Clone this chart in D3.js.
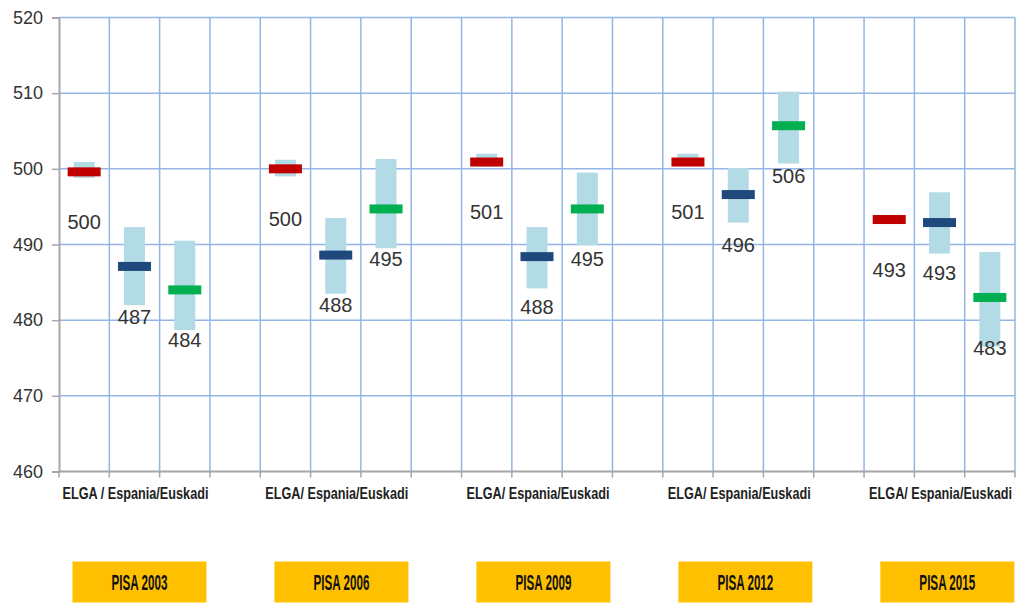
<!DOCTYPE html>
<html>
<head>
<meta charset="utf-8">
<script src="https://cdn.jsdelivr.net/npm/d3@7"></script>
<style>
  html, body { margin: 0; padding: 0; background: #fff; }
  svg { display: block; }
</style>
</head>
<body>
<svg id="chart" width="1017" height="604"></svg>
<script>
// ---- data ----
const groups = ["PISA 2003", "PISA 2006", "PISA 2009", "PISA 2012", "PISA 2015"];
const groupAxisLabels = ["ELGA / Espania/Euskadi", "ELGA/ Espania/Euskadi", "ELGA/ Espania/Euskadi", "ELGA/ Espania/Euskadi", "ELGA/ Espania/Euskadi"];
const entities = ["ELGA", "Espania", "Euskadi"];
const yTicks = [460, 470, 480, 490, 500, 510, 520];

const elgaValue    = [499.6, 500.0, 500.9, 500.9, 493.3];
const elgaLow      = [498.8, 499.0, 500.3, 500.4, 492.8];
const elgaHigh     = [500.9, 501.2, 502.0, 502.0, 493.9];
const elgaLabel    = ["500", "500", "501", "501", "493"];

const espaniaValue = [487.1, 488.6, 488.4, 496.6, 492.9];
const espaniaLow   = [482.0, 483.5, 484.2, 492.9, 488.8];
const espaniaHigh  = [492.3, 493.5, 492.3, 500.1, 496.9];
const espaniaLabel = ["487", "488", "488", "496", "493"];

const euskadiValue = [484.0, 494.7, 494.7, 505.7, 483.0];
const euskadiLow   = [478.7, 489.5, 489.9, 500.7, 476.5];
const euskadiHigh  = [490.5, 501.3, 499.5, 510.2, 489.0];
const euskadiLabel = ["484", "495", "495", "506", "483"];

const seriesColors = ["#c00000", "#1f497d", "#00b050"];

(function () {
// ---- build records ----
const seriesData = [
  {v: elgaValue, lo: elgaLow, hi: elgaHigh, lab: elgaLabel},
  {v: espaniaValue, lo: espaniaLow, hi: espaniaHigh, lab: espaniaLabel},
  {v: euskadiValue, lo: euskadiLow, hi: euskadiHigh, lab: euskadiLabel}
];
const records = [];
groups.forEach((g, gi) => {
  entities.forEach((e, ei) => {
    const s = seriesData[ei];
    records.push({slot: gi * 4 + ei, group: gi, entity: ei,
      value: s.v[gi], low: s.lo[gi], high: s.hi[gi], label: s.lab[gi]});
  });
});

// ---- layout ----
const svg = d3.select("#chart");
const pLeft = 59, pRight = 1015, pTop = 17.5, pBottom = 471.5;
const nSlots = groups.length * 4 - 1;
const x = d3.scaleBand().domain(d3.range(nSlots)).range([pLeft, pRight]).padding(0);
const y = d3.scaleLinear().domain([460, 520]).range([pBottom, pTop]);
const bw = x.bandwidth();

const gridColor = "#94b6e6";
const axisColor = "#a6a6a6";

// condensed text helper: scale horizontally to a target width
function condensed(sel, cx, cy, targetW) {
  sel.each(function (d, i) {
    const t = d3.select(this);
    const w = this.getComputedTextLength();
    const tw = typeof targetW === "function" ? targetW(d, i) : targetW;
    const sx = tw / w;
    t.attr("x", 0).attr("y", 0)
     .attr("transform", `translate(${cx(d, i)},${cy}) scale(${sx},1)`);
  });
}

// horizontal gridlines
svg.append("g").selectAll("line")
  .data(yTicks.filter(t => t > 460))
  .join("line")
  .attr("x1", pLeft).attr("x2", pRight)
  .attr("y1", d => y(d)).attr("y2", d => y(d))
  .attr("stroke", gridColor).attr("stroke-width", 1.5);

// vertical gridlines at slot boundaries
const boundaries = d3.range(nSlots + 1).map(i => pLeft + i * bw);
svg.append("g").selectAll("line")
  .data(boundaries.slice(1))
  .join("line")
  .attr("x1", d => d).attr("x2", d => d)
  .attr("y1", pTop).attr("y2", pBottom)
  .attr("stroke", gridColor).attr("stroke-width", 1.5);

// y axis
const yAxis = svg.append("g")
  .attr("transform", `translate(${pLeft},0)`)
  .call(d3.axisLeft(y).tickValues(yTicks).tickSize(7).tickPadding(9).tickFormat(d3.format("d")));
yAxis.select(".domain").attr("stroke", axisColor).attr("stroke-width", 2);
yAxis.selectAll(".tick line").attr("stroke", axisColor).attr("stroke-width", 1.5);
yAxis.selectAll(".tick text")
  .attr("font-family", "Liberation Sans, Arial, sans-serif")
  .attr("font-size", 18).attr("fill", "#333");

// x axis line and ticks
svg.append("line")
  .attr("x1", pLeft).attr("x2", pRight).attr("y1", pBottom).attr("y2", pBottom)
  .attr("stroke", axisColor).attr("stroke-width", 2);
svg.append("g").selectAll("line")
  .data(boundaries)
  .join("line")
  .attr("x1", d => d).attr("x2", d => d)
  .attr("y1", pBottom).attr("y2", pBottom + 6)
  .attr("stroke", axisColor).attr("stroke-width", 1.5);

// x group labels
svg.append("g").selectAll("text")
  .data(groupAxisLabels)
  .join("text")
  .attr("text-anchor", "middle")
  .attr("font-family", "Liberation Sans, Arial, sans-serif")
  .attr("font-weight", "bold")
  .attr("font-size", 16)
  .attr("fill", "#222")
  .text(d => d)
  .call(condensed, (d, i) => x(i * 4 + 1) + bw / 2 + 1, 499, (d, i) => i === 0 ? 146 : 143);

// range bars
svg.append("g").selectAll("rect")
  .data(records)
  .join("rect")
  .attr("x", d => x(d.slot) + bw / 2 - 10.5)
  .attr("width", 21)
  .attr("y", d => y(d.high))
  .attr("height", d => y(d.low) - y(d.high))
  .attr("fill", "#b3dbe6");

// markers
svg.append("g").selectAll("rect")
  .data(records)
  .join("rect")
  .attr("x", d => x(d.slot) + bw / 2 - 16.5)
  .attr("width", 33)
  .attr("y", d => y(d.value) - 4.5)
  .attr("height", 9)
  .attr("fill", d => seriesColors[d.entity]);

// value labels
svg.append("g").selectAll("text")
  .data(records)
  .join("text")
  .attr("x", d => x(d.slot) + bw / 2)
  .attr("y", d => y(d.value) + 50)
  .attr("dy", "0.36em")
  .attr("text-anchor", "middle")
  .attr("font-family", "Liberation Sans, Arial, sans-serif")
  .attr("font-size", 20)
  .attr("fill", "#333")
  .text(d => d.label);

// PISA boxes
const boxCx = (d, i) => x(i * 4 + 1) + bw / 2 + 5 + i * 0.7;
svg.append("g").selectAll("rect")
  .data(groups)
  .join("rect")
  .attr("x", (d, i) => boxCx(d, i) - 67).attr("width", 134)
  .attr("y", 561.5).attr("height", 41)
  .attr("fill", "#ffc000");
svg.append("g").selectAll("text")
  .data(groups)
  .join("text")
  .attr("text-anchor", "middle")
  .attr("font-family", "Liberation Sans, Arial, sans-serif")
  .attr("font-weight", "bold")
  .attr("font-size", 23)
  .attr("fill", "#111")
  .text(d => d)
  .call(condensed, boxCx, 590, 56);
})();
</script>
</body>
</html>
